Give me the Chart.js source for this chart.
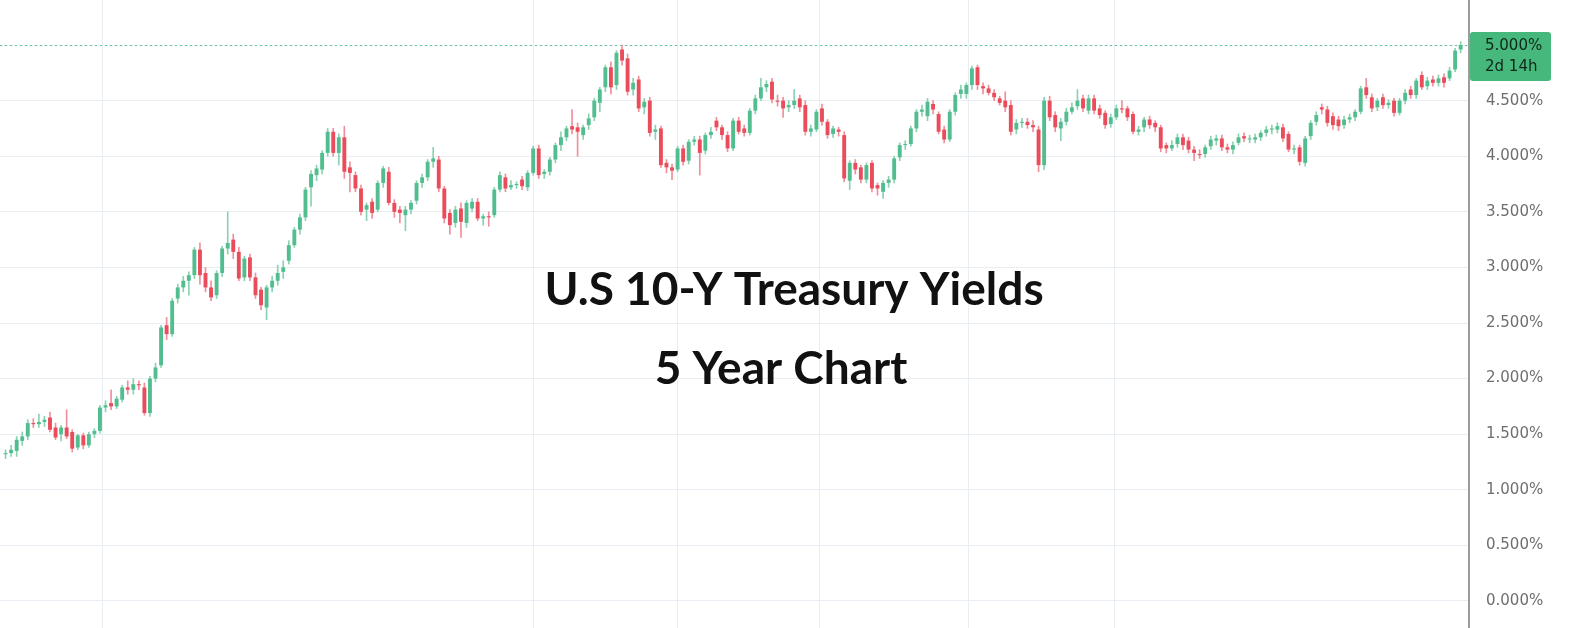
<!DOCTYPE html>
<html>
<script src="https://cdn.jsdelivr.net/npm/chart.js@4.4.0/dist/chart.umd.min.js"></script>
<style>
  body { margin: 0; background: #ffffff; }
  #wrap { position: relative; width: 1570px; height: 628px; }
</style>

<body>
  <div id="wrap"><canvas id="yields"></canvas></div>
  <script>
    // weekly candles (percent)
    const opens = [
      1.32,1.33,1.35,1.44,1.48,1.60,1.59,1.61,1.65,1.56,
      1.50,1.56,1.52,1.38,1.49,1.40,1.50,1.53,1.74,1.78,
      1.75,1.81,1.92,1.90,1.95,1.92,1.69,2.00,2.12,2.48,
      2.40,2.72,2.82,2.88,2.93,3.16,2.95,2.82,2.75,2.95,
      3.17,3.25,3.14,2.91,3.09,2.91,2.80,2.64,2.82,2.88,
      2.96,3.06,3.20,3.34,3.45,3.72,3.83,3.88,4.03,4.22,
      4.03,4.17,3.90,3.83,3.71,3.52,3.59,3.52,3.76,3.86,
      3.58,3.52,3.47,3.52,3.60,3.76,3.81,3.95,3.97,3.71,
      3.49,3.40,3.53,3.40,3.53,3.59,3.44,3.46,3.47,3.70,
      3.81,3.72,3.74,3.79,3.72,3.85,4.07,3.84,3.86,3.97,
      4.10,4.17,4.27,4.26,4.19,4.28,4.35,4.48,4.62,4.80,
      4.64,4.96,4.88,4.60,4.69,4.44,4.50,4.22,4.25,3.94,
      3.90,3.88,4.07,3.96,4.13,4.15,4.05,4.19,4.32,4.26,
      4.19,4.07,4.32,4.25,4.21,4.41,4.52,4.62,4.67,4.50,
      4.50,4.44,4.46,4.52,4.46,4.22,4.24,4.43,4.31,4.20,
      4.24,4.19,3.78,3.94,3.90,3.79,3.94,3.74,3.68,3.76,
      3.79,3.99,4.10,4.11,4.25,4.40,4.36,4.47,4.38,4.24,
      4.15,4.40,4.56,4.56,4.64,4.80,4.63,4.61,4.57,4.52,
      4.50,4.46,4.24,4.30,4.31,4.28,4.24,3.92,4.50,4.37,
      4.25,4.31,4.40,4.45,4.52,4.41,4.52,4.43,4.39,4.29,
      4.35,4.43,4.43,4.38,4.22,4.26,4.33,4.30,4.26,4.10,
      4.07,4.11,4.17,4.14,4.06,4.02,4.02,4.09,4.14,4.16,
      4.08,4.06,4.12,4.18,4.16,4.15,4.17,4.21,4.24,4.24,
      4.26,4.20,4.06,4.08,3.94,4.18,4.31,4.44,4.42,4.36,
      4.33,4.28,4.33,4.35,4.40,4.62,4.53,4.44,4.53,4.46,
      4.50,4.39,4.50,4.60,4.55,4.73,4.63,4.69,4.66,4.71,
      4.70,4.78,4.96
    ];
    const highs = [
      1.36,1.40,1.48,1.52,1.63,1.64,1.68,1.66,1.70,1.60,
      1.58,1.72,1.54,1.50,1.51,1.52,1.55,1.76,1.80,1.90,
      1.84,1.94,1.98,2.00,1.98,1.96,2.02,2.14,2.48,2.55,
      2.72,2.85,2.92,2.96,3.18,3.22,3.00,2.88,2.97,3.19,
      3.50,3.30,3.18,3.10,3.12,2.95,2.82,2.84,2.92,3.02,
      3.06,3.24,3.36,3.48,3.72,3.87,3.92,4.05,4.25,4.25,
      4.20,4.27,3.95,3.86,3.74,3.58,3.62,3.78,3.91,3.90,
      3.61,3.55,3.55,3.60,3.78,3.84,3.97,4.08,4.00,3.73,
      3.52,3.55,3.58,3.60,3.62,3.62,3.48,3.50,3.72,3.86,
      3.84,3.78,3.77,3.82,3.87,4.09,4.10,3.88,3.99,4.12,
      4.22,4.27,4.42,4.30,4.28,4.38,4.52,4.62,4.82,4.85,
      4.95,5.00,4.92,4.70,4.72,4.52,4.53,4.28,4.27,3.97,
      3.93,4.09,4.10,4.15,4.18,4.18,4.21,4.26,4.35,4.28,
      4.22,4.34,4.35,4.28,4.43,4.55,4.70,4.68,4.70,4.55,
      4.53,4.50,4.60,4.55,4.50,4.28,4.42,4.47,4.33,4.27,
      4.26,4.22,3.96,3.97,3.92,3.94,3.96,3.76,3.78,3.82,
      4.00,4.12,4.14,4.27,4.42,4.46,4.52,4.50,4.40,4.27,
      4.42,4.57,4.64,4.66,4.81,4.82,4.66,4.64,4.60,4.54,
      4.58,4.50,4.33,4.34,4.34,4.32,4.27,4.53,4.54,4.40,
      4.34,4.43,4.48,4.60,4.55,4.55,4.55,4.46,4.41,4.38,
      4.46,4.50,4.45,4.40,4.27,4.35,4.36,4.32,4.28,4.12,
      4.14,4.20,4.20,4.17,4.09,4.06,4.10,4.18,4.19,4.19,
      4.11,4.13,4.20,4.21,4.19,4.20,4.23,4.27,4.28,4.30,
      4.29,4.22,4.10,4.10,4.18,4.32,4.40,4.47,4.45,4.39,
      4.36,4.36,4.38,4.42,4.63,4.70,4.56,4.52,4.56,4.51,
      4.52,4.52,4.60,4.63,4.70,4.76,4.71,4.72,4.73,4.74,
      4.80,4.97,5.03
    ];
    const lows = [
      1.28,1.30,1.30,1.40,1.45,1.56,1.56,1.57,1.52,1.45,
      1.44,1.46,1.34,1.36,1.37,1.38,1.47,1.51,1.70,1.72,
      1.73,1.79,1.86,1.86,1.90,1.67,1.66,1.97,2.10,2.35,
      2.38,2.68,2.78,2.75,2.90,2.85,2.78,2.70,2.72,2.92,
      3.12,3.08,2.88,2.88,2.88,2.72,2.62,2.53,2.78,2.84,
      2.90,3.03,3.18,3.30,3.42,3.55,3.78,3.84,4.00,4.00,
      3.92,3.80,3.68,3.68,3.47,3.42,3.44,3.50,3.72,3.56,
      3.45,3.40,3.33,3.48,3.57,3.72,3.78,3.90,3.68,3.40,
      3.30,3.36,3.27,3.36,3.50,3.42,3.38,3.37,3.45,3.68,
      3.68,3.70,3.71,3.70,3.69,3.83,3.80,3.80,3.83,3.94,
      4.05,4.14,4.20,4.00,4.15,4.24,4.32,4.40,4.58,4.56,
      4.60,4.82,4.55,4.55,4.40,4.38,4.18,4.15,3.90,3.85,
      3.79,3.86,3.92,3.93,4.10,3.83,4.02,4.16,4.23,4.15,
      4.04,4.05,4.20,4.18,4.19,4.38,4.50,4.58,4.48,4.45,
      4.35,4.40,4.43,4.40,4.19,4.18,4.22,4.28,4.16,4.17,
      4.18,3.77,3.70,3.84,3.76,3.76,3.68,3.65,3.62,3.72,
      3.76,3.96,4.06,4.09,4.22,4.36,4.32,4.38,4.20,4.12,
      4.13,4.37,4.52,4.52,4.60,4.60,4.56,4.55,4.50,4.46,
      4.40,4.19,4.20,4.26,4.25,4.22,3.86,3.88,4.32,4.22,
      4.14,4.28,4.38,4.42,4.40,4.38,4.38,4.34,4.25,4.26,
      4.33,4.39,4.32,4.20,4.19,4.22,4.25,4.22,4.04,4.03,
      4.05,4.08,4.06,4.03,3.96,3.98,3.99,4.06,4.10,4.05,
      4.03,4.02,4.10,4.13,4.12,4.12,4.14,4.18,4.20,4.21,
      4.13,4.04,4.02,3.92,3.91,4.15,4.28,4.38,4.27,4.24,
      4.23,4.25,4.30,4.32,4.38,4.52,4.40,4.41,4.43,4.43,
      4.36,4.37,4.47,4.52,4.52,4.60,4.60,4.63,4.63,4.62,
      4.68,4.76,4.93
    ];
    const closes = [
      1.33,1.36,1.45,1.48,1.60,1.59,1.61,1.63,1.54,1.47,
      1.56,1.48,1.37,1.49,1.40,1.50,1.53,1.74,1.76,1.75,
      1.82,1.92,1.90,1.95,1.94,1.69,2.00,2.10,2.46,2.40,
      2.70,2.82,2.88,2.93,3.16,2.93,2.82,2.73,2.95,3.17,
      3.22,3.14,2.90,3.08,2.91,2.75,2.66,2.82,2.88,2.95,
      3.00,3.20,3.34,3.45,3.70,3.84,3.89,4.03,4.22,4.03,
      4.17,3.86,3.85,3.71,3.50,3.56,3.49,3.76,3.89,3.58,
      3.50,3.49,3.52,3.58,3.76,3.81,3.95,3.98,3.71,3.44,
      3.38,3.52,3.41,3.58,3.59,3.44,3.46,3.45,3.70,3.83,
      3.71,3.74,3.75,3.73,3.85,4.07,3.83,3.86,3.97,4.10,
      4.17,4.25,4.24,4.22,4.26,4.34,4.50,4.60,4.80,4.62,
      4.93,4.86,4.58,4.66,4.43,4.49,4.21,4.24,3.92,3.90,
      3.87,4.07,3.95,4.13,4.15,4.03,4.19,4.22,4.26,4.19,
      4.07,4.32,4.22,4.21,4.41,4.52,4.62,4.65,4.51,4.49,
      4.43,4.46,4.50,4.44,4.22,4.25,4.40,4.31,4.19,4.25,
      4.22,3.80,3.94,3.88,3.79,3.92,3.71,3.71,3.76,3.79,
      3.98,4.10,4.11,4.25,4.40,4.42,4.49,4.42,4.22,4.15,
      4.40,4.55,4.60,4.64,4.79,4.64,4.61,4.57,4.53,4.48,
      4.44,4.22,4.30,4.31,4.28,4.26,3.92,4.50,4.35,4.26,
      4.31,4.40,4.44,4.50,4.43,4.52,4.41,4.37,4.28,4.35,
      4.43,4.42,4.35,4.22,4.24,4.33,4.28,4.26,4.07,4.07,
      4.10,4.17,4.10,4.06,4.03,4.01,4.08,4.15,4.16,4.08,
      4.06,4.10,4.17,4.16,4.16,4.17,4.21,4.24,4.25,4.27,
      4.16,4.06,4.07,3.95,4.16,4.30,4.37,4.42,4.30,4.28,
      4.27,4.33,4.35,4.40,4.61,4.55,4.43,4.50,4.46,4.48,
      4.39,4.50,4.57,4.55,4.68,4.62,4.68,4.66,4.70,4.66,
      4.77,4.95,5.00
    ];

    const yTicks = [0, 0.5, 1, 1.5, 2, 2.5, 3, 3.5, 4, 4.5, 5];
    const xGridAt = [17.4, 95, 120.9, 146.6, 173.3, 199.6]; // week index of the vertical lines
    const tagLines = ["5.000%", "2d 14h"];
    const titleLines = ["U.S 10-Y Treasury Yields", "5 Year Chart"];

    const green = "#52bd8e";
    const red = "#ea4c5b";
    const greenWick = "#8ad2b1";
    const redWick = "#f08f99";
    const isUp = (i) => closes[i] >= opens[i];

    const bodies = opens.map((o, i) => ({ x: i, y: [o, closes[i]] }));
    const wicks = lows.map((l, i) => ({ x: i, y: [l, highs[i]] }));

    // dotted last-price line, price tag and the big caption
    const overlay = {
      id: "overlay",
      beforeDatasetsDraw(chart) {
        const ctx = chart.ctx;
        const area = chart.chartArea;
        const y = chart.scales.y.getPixelForValue(closes[closes.length - 1]);
        ctx.save();
        ctx.strokeStyle = "#5fc29d";
        ctx.lineWidth = 1;
        ctx.setLineDash([2, 3]);
        ctx.beginPath();
        ctx.moveTo(area.left, Math.round(y) + 0.5);
        ctx.lineTo(area.right, Math.round(y) + 0.5);
        ctx.stroke();
        ctx.restore();
      },
      afterDraw(chart) {
        const ctx = chart.ctx;
        const area = chart.chartArea;
        const y = chart.scales.y.getPixelForValue(closes[closes.length - 1]);
        ctx.save();
        ctx.fillStyle = "#46b87c";
        ctx.beginPath();
        ctx.roundRect(area.right + 1, y - 13, 81, 49, 3);
        ctx.fill();
        ctx.fillStyle = "#10261a";
        ctx.font = "15px 'DejaVu Sans'";
        ctx.textAlign = "left";
        ctx.textBaseline = "middle";
        ctx.fillText(tagLines[0], area.right + 16, y + 1);
        ctx.fillText(tagLines[1], area.right + 16, y + 22);

        ctx.fillStyle = "#111111";
        ctx.font = "bold 46px Lato";
        ctx.textAlign = "center";
        ctx.textBaseline = "alphabetic";
        ctx.fillText(titleLines[0], 794, 305);
        ctx.fillText(titleLines[1], 781, 384);
        ctx.restore();
      }
    };

    new Chart("yields", {
      type: "bar",
      data: {
        datasets: [
          {
            data: bodies,
            grouped: false,
            order: 1,
            barPercentage: 0.7,
            categoryPercentage: 1,
            minBarLength: 1,
            borderWidth: 0,
            borderSkipped: false,
            backgroundColor: (c) => (isUp(c.dataIndex) ? green : red),
          },
          {
            data: wicks,
            grouped: false,
            order: 2,
            barThickness: 1,
            borderWidth: 0,
            borderSkipped: false,
            backgroundColor: (c) => (isUp(c.dataIndex) ? greenWick : redWick),
          },
        ],
      },
      plugins: [overlay],
      options: {
        responsive: true,
        maintainAspectRatio: false,
        animation: false,
        layout: { padding: 0 },
        plugins: {
          legend: { display: false },
          tooltip: { enabled: false },
        },
        scales: {
          x: {
            type: "linear",
            min: -1,
            max: 263.5,
            offset: false,
            ticks: { display: false },
            border: { display: false },
            grid: { color: "#e9eef4", drawTicks: false, offset: false },
            afterBuildTicks: (s) => { s.ticks = xGridAt.map((v) => ({ value: v })); },
            afterFit: (s) => { s.height = 0; },
          },
          y: {
            position: "right",
            min: -0.243,
            max: 5.405,
            border: { color: "#9c9c9c", width: 2 },
            grid: { color: "#e9eef4", drawTicks: false },
            ticks: {
              padding: 17,
              color: "#6e6e6e",
              font: { family: "DejaVu Sans", size: 15 },
              callback: (v) => v.toFixed(3) + "%",
            },
            afterBuildTicks: (s) => { s.ticks = yTicks.map((v) => ({ value: v })); },
            afterFit: (s) => {
              s.width = 101;
              s.paddingTop = 0;
              s.paddingBottom = 0;
            },
          },
        },
      },
    });
  </script>
</body>

</html>
